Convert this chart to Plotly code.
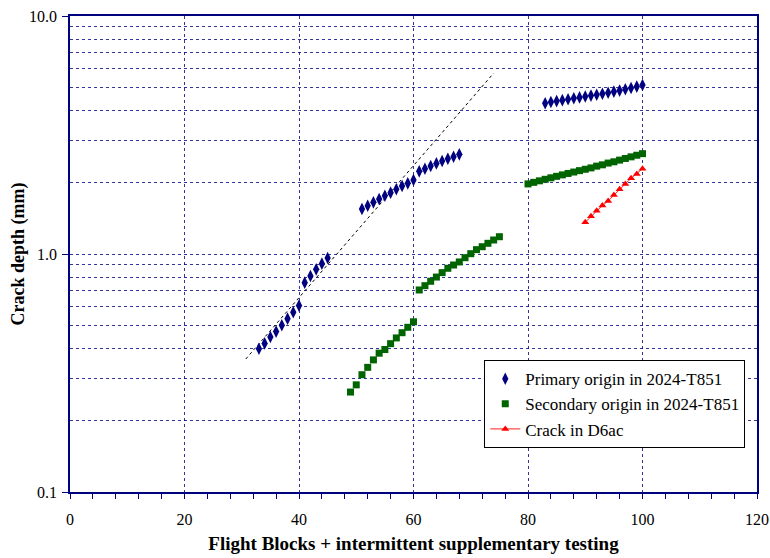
import plotly.graph_objects as go

# Primary origin in 2024-T851
prim_x = [33, 34, 35, 36, 37, 38, 39, 40, 41, 42, 43, 44, 45,
          51, 52, 53, 54, 55, 56, 57, 58, 59, 60, 61, 62, 63, 64, 65, 66, 67, 68,
          83, 84, 85, 86, 87, 88, 89, 90, 91, 92, 93, 94, 95, 96, 97, 98, 99, 100]
prim_y = [0.400, 0.421, 0.448, 0.472, 0.502, 0.535, 0.569, 0.607, 0.758, 0.808, 0.862, 0.911, 0.962,
          1.545, 1.596, 1.648, 1.702, 1.758, 1.810, 1.870, 1.930, 1.981, 2.046,
          2.225, 2.282, 2.343, 2.403, 2.459, 2.513, 2.562, 2.623,
          4.30, 4.35, 4.39, 4.43, 4.47, 4.51, 4.55, 4.59, 4.63, 4.67, 4.71, 4.76, 4.81, 4.86, 4.92, 4.98, 5.05, 5.13]

# Secondary origin in 2024-T851
sec_x = [49, 50, 51, 52, 53, 54, 55, 56, 57, 58, 59, 60,
         61, 62, 63, 64, 65, 66, 67, 68, 69, 70, 71, 72, 73, 74, 75,
         80, 81, 82, 83, 84, 85, 86, 87, 88, 89, 90, 91, 92, 93, 94, 95, 96, 97, 98, 99, 100]
sec_y = [0.263, 0.282, 0.311, 0.334, 0.359, 0.383, 0.397, 0.420, 0.444, 0.467, 0.492, 0.519,
         0.706, 0.736, 0.768, 0.800, 0.835, 0.871, 0.899, 0.926, 0.965, 1.003, 1.043, 1.073, 1.109, 1.145, 1.182,
         1.97, 2.00, 2.03, 2.06, 2.09, 2.12, 2.15, 2.18, 2.21, 2.24, 2.27, 2.30, 2.34, 2.37, 2.41, 2.44, 2.48, 2.52, 2.56, 2.60, 2.64]

# Crack in D6ac
d6_x = [90, 91, 92, 93, 94, 95, 96, 97, 98, 99, 100]
d6_y = [1.36, 1.44, 1.52, 1.60, 1.67, 1.77, 1.87, 1.97, 2.08, 2.17, 2.28]

# Trend line (exponential fit, endpoints)
trend_x = [30.7, 74.0]
trend_y = [0.362, 5.75]

x_ticks = [0, 20, 40, 60, 80, 100, 120]
y_ticks = [0.1, 1, 10]
y_ticklabels = ["0.1", "1.0", "10.0"]
y_minor = [0.2, 0.3, 0.4, 0.5, 0.6, 0.7, 0.8, 0.9, 2, 3, 4, 5, 6, 7, 8, 9]

NAVY = "#000080"
GRID = "rgba(0,0,128,0.8)"
FONT = "Liberation Serif, Times New Roman, serif"

fig = go.Figure()
fig.add_trace(go.Scatter(x=trend_x, y=trend_y, mode="lines",
                         line=dict(color="black", width=1, dash="dot"),
                         showlegend=False, hoverinfo="skip"))
fig.add_trace(go.Scatter(x=prim_x, y=prim_y, mode="markers", name="Primary origin in 2024-T851",
                         marker=dict(symbol="diamond-tall", size=9, color=NAVY)))
fig.add_trace(go.Scatter(x=sec_x, y=sec_y, mode="markers", name="Secondary origin in 2024-T851",
                         marker=dict(symbol="square", size=7, color="#006400")))
fig.add_trace(go.Scatter(x=d6_x, y=d6_y, mode="lines+markers", name="Crack in D6ac",
                         line=dict(color="#ff2020", width=1),
                         marker=dict(symbol="triangle-up", size=7, color="#ff0000")))

fig.update_layout(
    width=770, height=558,
    margin=dict(l=70, r=13, t=16, b=66),
    paper_bgcolor="white", plot_bgcolor="white",
    font=dict(family=FONT, size=16, color="black"),
    legend=dict(x=0.603, y=0.277, xanchor="left", yanchor="top",
                bgcolor="white", bordercolor="black", borderwidth=1,
                font=dict(family=FONT, size=17), tracegroupgap=0,
                itemwidth=30),
)
fig.update_xaxes(
    range=[0, 120], tickvals=x_ticks, ticks="outside", ticklen=5, tickcolor=NAVY,
    showline=True, linecolor=NAVY, linewidth=1.5, mirror=True,
    showgrid=True, gridcolor=GRID, griddash="dot", gridwidth=1,
    zeroline=False, automargin=False, ticklabelstandoff=7,
    minor=dict(dtick=4, ticks="outside", ticklen=5, tickcolor=NAVY, showgrid=False),
    tickfont=dict(family=FONT, size=16),
    title=dict(text="<b>Flight Blocks + intermittent supplementary testing</b>",
               font=dict(family=FONT, size=19), standoff=10),
)
fig.update_yaxes(
    type="log", range=[-1, 1], tickvals=y_ticks, ticktext=y_ticklabels,
    ticks="outside", ticklen=6, tickcolor=NAVY,
    showline=True, linecolor=NAVY, linewidth=1.5, mirror=True,
    showgrid=True, gridcolor=GRID, griddash="dot", gridwidth=1,
    automargin=False, ticklabelstandoff=2,
    minor=dict(tickvals=y_minor, ticks="", showgrid=True, gridcolor=GRID, griddash="dot", gridwidth=1),
    tickfont=dict(family=FONT, size=16),
    title=dict(text="<b>Crack depth (mm)</b>", font=dict(family=FONT, size=18), standoff=0),
)

fig.write_html("out.html")
